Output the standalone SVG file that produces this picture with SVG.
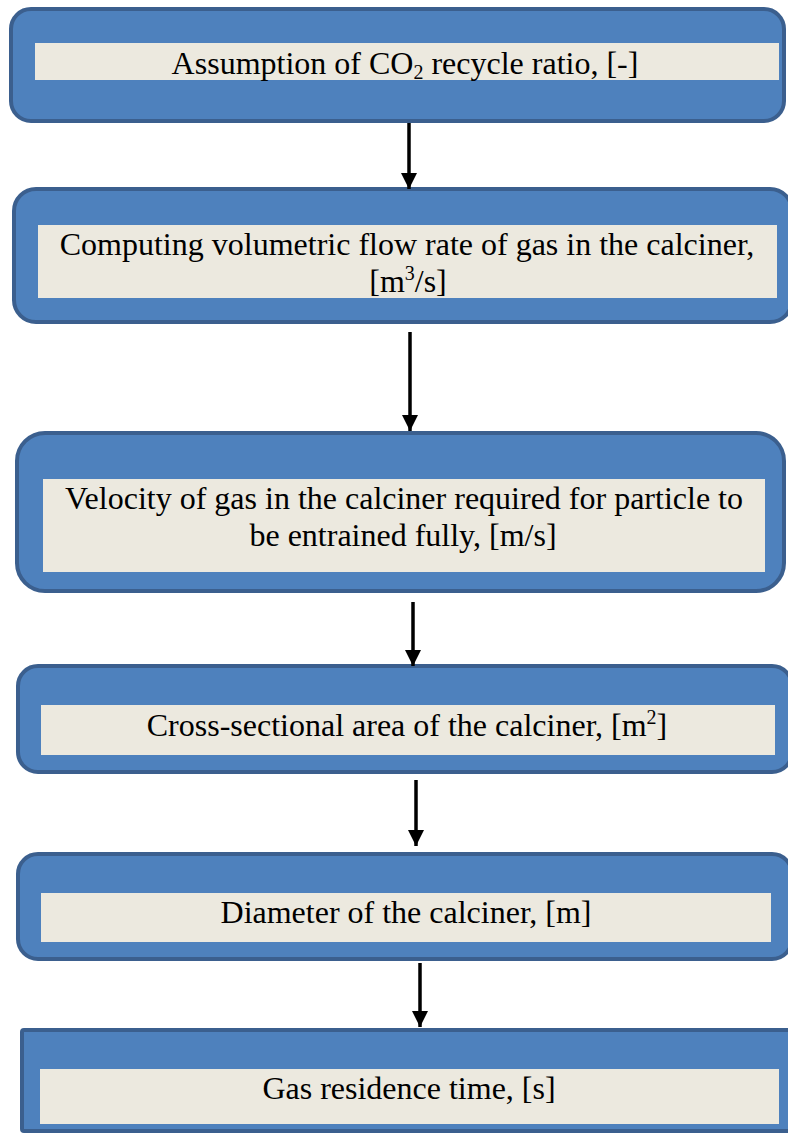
<svg xmlns="http://www.w3.org/2000/svg" width="788" height="1133" viewBox="0 0 788 1133">
  <defs>
    <style>
      .frame { fill: #4e81bd; stroke: #3b5f8e; stroke-width: 4; }
      .panel { fill: #ece9df; stroke: none; }
      .label { font-family: "Liberation Serif", "Times New Roman", serif; font-size: 32px; fill: #000; text-anchor: middle; }
      .sub { font-size: 20px; }
      .link { stroke: #000; stroke-width: 3.5; fill: none; marker-end: url(#head); }
    </style>
    <marker id="head" markerUnits="userSpaceOnUse" markerWidth="18" markerHeight="16" refX="16" refY="8" orient="auto">
      <path d="M0,0 L16,8 L0,16 Z" fill="#000"/>
    </marker>
  </defs>

  <rect width="788" height="1133" fill="#fff"/>

  <g id="recycle-ratio">
    <rect class="frame" x="11" y="9" width="773" height="112" rx="20"/>
    <rect class="panel" x="35" y="43" width="744" height="37"/>
    <text class="label" x="405" y="74">Assumption of CO<tspan class="sub" dy="5">2</tspan><tspan dy="-5"> recycle ratio, [-]</tspan></text>
  </g>

  <g id="volumetric-flow">
    <rect class="frame" x="14" y="189" width="778" height="133" rx="22"/>
    <rect class="panel" x="38" y="225" width="739" height="73"/>
    <text class="label" x="407" y="255">Computing volumetric flow rate of gas in the calciner,</text>
    <text class="label" x="408" y="292">[m<tspan class="sub" dy="-12">3</tspan><tspan dy="12">/s]</tspan></text>
  </g>

  <g id="gas-velocity">
    <rect class="frame" x="17" y="433" width="767" height="158" rx="28"/>
    <rect class="panel" x="43" y="479" width="722" height="93"/>
    <text class="label" x="404" y="509">Velocity of gas in the calciner required for particle to</text>
    <text class="label" x="403" y="546">be entrained fully, [m/s]</text>
  </g>

  <g id="cross-section">
    <rect class="frame" x="18" y="666" width="774" height="106" rx="20"/>
    <rect class="panel" x="41" y="705" width="734" height="50"/>
    <text class="label" x="407" y="736">Cross-sectional area of the calciner, [m<tspan class="sub" dy="-12">2</tspan><tspan dy="12">]</tspan></text>
  </g>

  <g id="diameter">
    <rect class="frame" x="18" y="854" width="774" height="105" rx="20"/>
    <rect class="panel" x="41" y="893" width="730" height="49"/>
    <text class="label" x="406" y="923">Diameter of the calciner, [m]</text>
  </g>

  <g id="residence-time">
    <rect class="frame" x="22" y="1030" width="780" height="101" rx="2"/>
    <rect class="panel" x="40" y="1069" width="739" height="55"/>
    <text class="label" x="409" y="1099">Gas residence time, [s]</text>
  </g>

  <g id="connectors">
    <path class="link" d="M409,123 L409,189"/>
    <path class="link" d="M410,332 L410,431"/>
    <path class="link" d="M413,602 L413,666"/>
    <path class="link" d="M416,780 L416,846"/>
    <path class="link" d="M420,963 L420,1027"/>
  </g>
</svg>
